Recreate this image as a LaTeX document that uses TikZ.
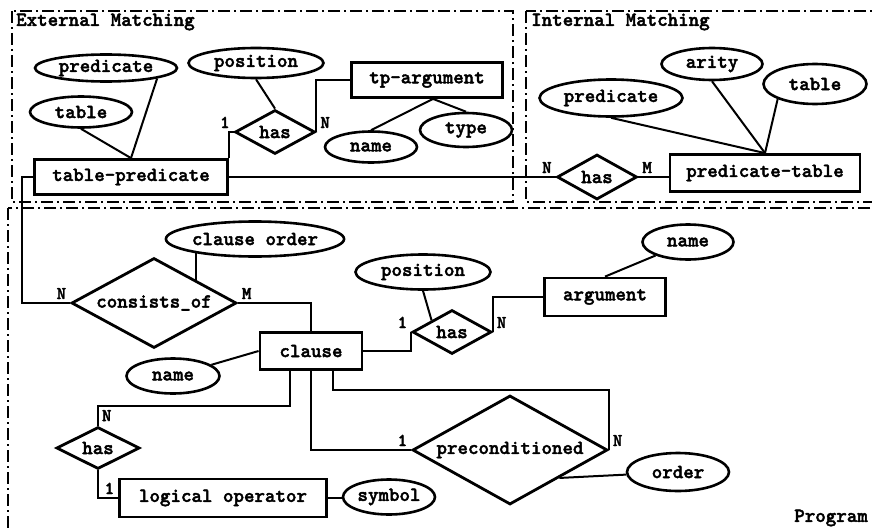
\documentclass[tikz,border=0pt]{standalone}
\usepackage{fontspec}
\newfontfamily\erfont{lmmonolt10-bold.otf}[FakeBold=2]
\usetikzlibrary{shapes.geometric, positioning}
\tikzstyle{entity}   = [rectangle, draw=black, line width=2.8pt, inner sep=0pt, text centered]
\tikzstyle{attrib}   = [ellipse, draw=black, line width=2.6pt, inner sep=0pt]
\tikzstyle{relation} = [diamond, draw=black, line width=2.8pt, inner sep=0pt, aspect=1.8]
\tikzstyle{link}     = [line width=2pt]
\tikzstyle{frame}    = [line width=1.2pt, dash pattern=on 12pt off 4pt on 2pt off 4pt]
\tikzstyle{card}     = [inner sep=3pt, font=\fontsize{18}{20}\erfont]
\tikzstyle{lbl}      = [inner sep=1pt]

\begin{document}
\begin{tikzpicture}[x=1pt, y=-1pt, font=\fontsize{20}{22}\erfont]
\useasboundingbox (0,0) rectangle (872,527);
\clip (0,0) rectangle (872,527);

% frames
\draw [frame] (12,11) rectangle (513,202);
\draw [frame] (526,11) rectangle (890,202);
\draw [frame] (8,208) rectangle (890,560);
\node (extlbl) [lbl, anchor=west] at (15,22) {External Matching};
\node (intlbl) [lbl, anchor=west] at (530,22) {Internal Matching};
\node (prglbl) [lbl, anchor=east] at (869,518) {Program};

% entities
\node (tpred) [entity, minimum width=193, minimum height=35] at (131,177) {table-predicate};
\node (tparg) [entity, minimum width=151, minimum height=35] at (427,80) {tp-argument};
\node (predtab) [entity, minimum width=190, minimum height=37] at (765,173) {predicate-table};
\node (clause) [entity, minimum width=102, minimum height=37] at (311,351) {clause};
\node (arg) [entity, minimum width=121, minimum height=38] at (605,297) {argument};
\node (logop) [entity, minimum width=207, minimum height=38] at (223,498) {logical operator};

% attributes
\node (epred) [attrib, minimum width=142, minimum height=27] at (106,68) {predicate};
\node (etab) [attrib, minimum width=102, minimum height=31] at (81,112) {table};
\node (epos) [attrib, minimum width=135, minimum height=30] at (256,63) {position};
\node (tpname) [attrib, minimum width=92, minimum height=31] at (371,147) {name};
\node (tptype) [attrib, minimum width=92, minimum height=34] at (466,130) {type};
\node (ipred) [attrib, minimum width=143, minimum height=37] at (611,98) {predicate};
\node (iarity) [attrib, minimum width=101, minimum height=32] at (712,64) {arity};
\node (itab) [attrib, minimum width=103, minimum height=40] at (815,84) {table};
\node (corder) [attrib, minimum width=176, minimum height=35] at (255,239) {clause order};
\node (ppos) [attrib, minimum width=135, minimum height=35] at (423,272) {position};
\node (aname) [attrib, minimum width=91, minimum height=35] at (688,242) {name};
\node (cname) [attrib, minimum width=93, minimum height=35] at (173,376) {name};
\node (order) [attrib, minimum width=102, minimum height=38] at (678,472) {order};
\node (symbol) [attrib, minimum width=92, minimum height=35] at (389,497) {symbol};

% relationships
\node (ehas) [relation, minimum width=80, minimum height=44] at (275,132) {has};
\node (ihas) [relation, minimum width=80, minimum height=45] at (597,177) {has};
\node (consists) [relation, minimum width=165, minimum height=90] at (154,303) {consists\_of};
\node (phas) [relation, minimum width=79, minimum height=44] at (452,332) {has};
\node (lhas) [relation, minimum width=83, minimum height=42, aspect=2] at (98,448) {has};
\node (precond) [relation, minimum width=195, minimum height=109] at (510,450) {preconditioned};

% external matching
\draw [link] (epred.south east) -- (tpred.north);
\draw [link] (etab.south) -- (tpred.north);
\draw [link] (epos.south) -- (ehas.north);
\draw [link] (tpred.north east) |- node [card, pos=1, above left] {1} (ehas.west);
\draw [link] (ehas.east) |- node [card, pos=0, above right] {N} (tparg.west);
\draw [link] ([xshift=6]tparg.south) -- (tpname.north);
\draw [link] ([xshift=6]tparg.south) -- (tptype.north);

% internal matching
\draw [link] (tpred.east) -- node [card, pos=1, above left] {N} (ihas.west);
\draw [link] (ihas.east) -- node [card, pos=0, above right] {M} (ihas.east -| predtab.west);
\draw [link] (ipred.south) -- (predtab.north);
\draw [link] (iarity.south) -- (predtab.north);
\draw [link] (itab.south west) -- (predtab.north);

% program
\draw [link] (tpred.west) -- ++(-11,0) |- node [card, pos=1, above left] {N} (consists.west);
\draw [link] (consists.east) -| node [card, pos=0, above right] {M} (clause.north);
\draw [link] (consists.north east) -- (consists.north east |- corder.south west);
\draw [link] (clause.west) -- (cname);
\draw [link] (clause.east) -| node [card, pos=1, above left] {1} (phas.west);
\draw [link] (phas.east) |- node [card, pos=0, above right] {N} (arg.west);
\draw [link] (ppos.south) -- (phas.north west);
\draw [link] (arg.north) -- (aname);
\draw [link] ([xshift=-21]clause.south) |- ([yshift=20]lhas.north) -- node [card, pos=0.5, right] {N} (lhas.north);
\draw [link] (lhas.south) |- node [card, pos=1, above left] {1} (logop.west);
\draw [link] (logop.east) -- (logop.east -| symbol.west);
\draw [link] (clause.south) |- node [card, pos=1, above left] {1} (precond.west);
\draw [link] ([xshift=22]clause.south) -- ++(0,19) -| node [card, pos=1, above right] {N} (precond.east);
\draw [link] (precond.south east) -- (order);
\end{tikzpicture}
\end{document}
